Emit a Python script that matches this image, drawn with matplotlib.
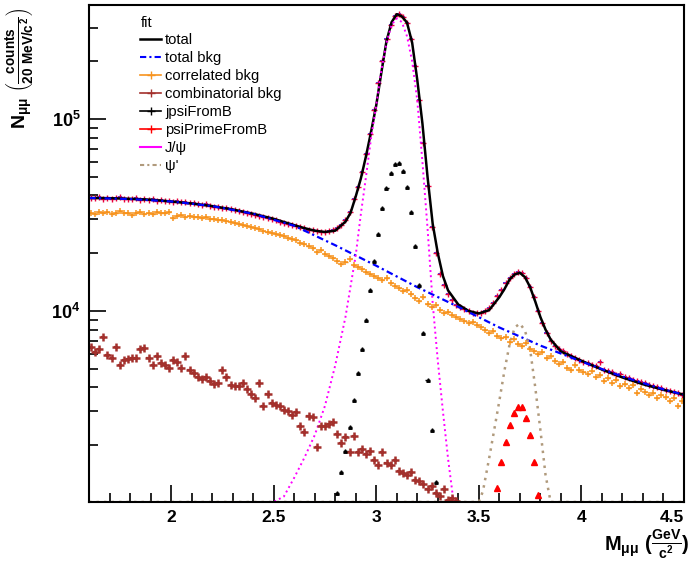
import numpy as np
import matplotlib.pyplot as plt
from matplotlib.lines import Line2D
from matplotlib.ticker import LogLocator, NullFormatter, FuncFormatter, MultipleLocator

plt.rcParams['font.family'] = ['Liberation Sans', 'DejaVu Sans']
plt.rcParams['mathtext.fontset'] = 'custom'
plt.rcParams['mathtext.rm'] = 'Liberation Sans:bold'
plt.rcParams['mathtext.it'] = 'Liberation Sans:bold'
plt.rcParams['mathtext.bf'] = 'Liberation Sans:bold'

# 20 MeV bins between 1.6 and 4.5 GeV
edges = np.arange(1.6, 4.5001, 0.02)
centers = (edges[:-1] + edges[1:]) / 2

# data (follows the total fit)
data = [38900, 38600, 39100, 38500, 38800, 38400, 38700, 39300, 38200, 38500,
        38300, 38600, 38000, 38400, 37900, 38100, 37600, 37900, 37300, 37500,
        37100, 37400, 36800, 36900, 36400, 36600, 36000, 35800, 35900, 35200,
        35000, 34700, 34300, 34500, 33800, 33600, 33100, 32900, 32500, 32000,
        31800, 31200, 30900, 30400, 30100, 29700, 29200, 28900, 28500, 28000,
        27700, 27300, 26900, 26500, 26300, 26000, 25900, 25800, 26000, 26400,
        27000, 28000, 29800, 32800, 38500, 44500, 53000, 66000, 84000, 112000,
        155000, 200000, 262000, 310000, 345000, 352000, 340000, 318000, 262000, 190000,
        125000, 75000, 45000, 27500, 20000, 15600, 13600, 12300, 11400, 10800,
        10500, 10200, 9950, 9750, 9700, 9800, 10000, 10400, 11000, 11900,
        12900, 13900, 14900, 15600, 15900, 15700, 14800, 13400, 11800, 10000,
        8700, 7700, 7000, 6600, 6300, 6150, 5950, 5850, 5700, 5550,
        5450, 5350, 5250, 5150, 5400, 4950, 4850, 4800, 4650, 4700,
        4550, 4450, 4380, 4330, 4250, 4200, 4100, 4060, 4000, 3950,
        3880, 3830, 3760, 3720, 3650]

correlated = [32500, 32100, 32800, 32300, 32600, 31900, 32400, 33000, 32200, 32500,
              31800, 32300, 32700, 32100, 32400, 31900, 32600, 32200, 32500, 32800,
              30400, 31200, 31600, 31000, 31400, 30700, 30900, 30500, 30800, 30100,
              30300, 29700, 29900, 29300, 29000, 28700, 28300, 28100, 27600, 27300,
              26900, 26700, 26200, 25900, 25500, 25200, 24800, 24500, 24000, 23700,
              23300, 22700, 22400, 21700, 21200, 20400, 20700, 19900, 19300, 18800,
              18300, 17600, 17900, 18600, 17400, 16900, 16600, 16000, 15600, 15300,
              14800, 14500, 14800, 13900, 13500, 13200, 12700, 12900, 12300, 11700,
              11300, 11800, 10900, 10500, 10700, 10100, 9700, 9900, 9500, 9300,
              9100, 8900, 8700, 8800, 8400, 8200, 8000, 7700, 7900, 7400,
              7200, 7300, 6900, 7100, 6700, 6600, 6800, 6300, 6200, 6000,
              6100, 5700, 5800, 5500, 5300, 5400, 5050, 4950, 5200, 4900,
              4800, 4700, 4850, 4550, 4650, 4300, 4450, 4200, 4350, 4050,
              4150, 3950, 4100, 3750, 3900, 3800, 3650, 3750, 3500, 3650,
              3550, 3400, 3500, 3200, 3400]

# combinatorial bkg, bins 1.61 .. 3.39
combinatorial = [6500, 6100, 6300, 7300, 5900, 5700, 6500, 5250, 5550, 5600,
                 5700, 5700, 6300, 6400, 5700, 5250, 5800, 5350, 5250, 5050,
                 5550, 5400, 5050, 5850, 4950, 4750, 4500, 4400, 4500, 4300,
                 4150, 4200, 4950, 4500, 4100, 4050, 4050, 4200, 3900, 3700,
                 3500, 4200, 3200, 3700, 3300, 3250, 3200, 3050, 3000, 2870,
                 2980, 2500, 2330, 2840, 2800, 1960, 2500, 2520, 2570, 2640,
                 2280, 2060, 2200, 1850, 2220, 1850, 1900, 1800, 1870, 1680,
                 1580, 1850, 1620, 1580, 1680, 1460, 1430, 1400, 1450, 1320,
                 1300, 1250, 1180, 1220, 1130, 1090, 1180, 1040, 1060, 1020]

jpsiB_x = [2.81, 2.83, 2.85, 2.87, 2.89, 2.91, 2.93, 2.95, 2.97, 2.99, 3.01, 3.03, 3.05,
           3.07, 3.09, 3.11, 3.13, 3.15, 3.17, 3.19, 3.21, 3.23, 3.25, 3.27, 3.29]
jpsiB = [1130, 1445, 1870, 2480, 3440, 4730, 6340, 8970, 12900, 18100, 25200, 34300, 43600,
         52500, 58300, 59200, 53800, 44500, 32900, 21800, 13600, 7710, 4370, 2390, 1280]

psipB_x = [3.59, 3.61, 3.63, 3.65, 3.67, 3.69, 3.71, 3.73, 3.75, 3.77, 3.79]
psipB = [1190, 1630, 2070, 2550, 2950, 3170, 3170, 2760, 2260, 1630, 1100]

total_x = [1.6, 1.7, 1.8, 1.9, 2.0, 2.1, 2.2, 2.3, 2.4, 2.5, 2.6, 2.65, 2.7, 2.75, 2.8,
           2.85, 2.875, 2.9, 2.925, 2.95, 2.975, 3.0, 3.025, 3.05, 3.075, 3.1, 3.125,
           3.15, 3.175, 3.2, 3.225, 3.25, 3.275, 3.3, 3.325, 3.35, 3.4, 3.45, 3.5,
           3.55, 3.6, 3.625, 3.65, 3.675, 3.7, 3.725, 3.75, 3.775, 3.8, 3.825, 3.85,
           3.9, 4.0, 4.1, 4.2, 4.3, 4.4, 4.5]
total = [38800, 38700, 38400, 38000, 37200, 36300, 35200, 33800, 32100, 30200, 28000,
         27000, 26200, 25800, 26200, 29200, 32500, 39500, 49000, 64000, 86000, 118000,
         175000, 255000, 320000, 352000, 343000, 318000, 250000, 160000, 95000, 50000,
         28500, 20000, 15200, 12800, 10800, 10000, 9700, 10100, 11800, 13000, 14600,
         15500, 15800, 15000, 13300, 11200, 9300, 8000, 7100, 6150, 5500, 4950, 4500,
         4150, 3880, 3660]

bkg_x = [1.6, 1.8, 2.0, 2.2, 2.4, 2.6, 2.8, 3.0, 3.2, 3.4, 3.6, 3.8, 4.0, 4.2, 4.4, 4.5]
bkg = [38800, 38300, 37200, 35200, 32100, 27800, 22000, 17200, 13300, 10500, 8200,
       6600, 5450, 4550, 3900, 3660]

jpsi_x = [1.6, 2.5, 2.55, 2.6, 2.65, 2.7, 2.75, 2.8, 2.85, 2.9, 2.925, 2.95, 2.975, 3.0,
          3.025, 3.05, 3.075, 3.1, 3.125, 3.15, 3.175, 3.2, 3.225, 3.25, 3.275, 3.3,
          3.325, 3.35, 3.375, 3.4, 4.5]
jpsi = [20, 850, 1080, 1350, 1720, 2250, 3200, 5200, 9300, 19500, 32000, 50000, 80000,
        118000, 180000, 250000, 310000, 335000, 320000, 270000, 200000, 125000, 60000,
        27000, 11000, 5500, 3000, 1700, 1050, 700, 1]

psip_x = [1.6, 3.45, 3.5, 3.52, 3.55, 3.575, 3.6, 3.625, 3.65, 3.675, 3.7, 3.725, 3.75,
          3.775, 3.8, 3.825, 3.85, 3.87, 3.92, 4.5]
psip = [1, 300, 800, 1150, 1700, 2400, 3400, 4900, 6700, 8200, 8600, 7900, 6300, 4000,
        2400, 1400, 850, 600, 300, 1]

ymin, ymax = 1010, 3.93e5
orange = '#f7931e'
brown = '#a3302c'
tan = '#b09a7c'
bkg_ls = (0, (3, 1.5, 1, 1.5))

fig = plt.figure(figsize=(6.95, 5.63), dpi=100)
ax = fig.add_axes([89 / 695, 1 - 502 / 563, 595 / 695, 497 / 563])

ax.errorbar(centers, correlated, xerr=0.01, fmt='+', color=orange, ms=5, mew=1.1, lw=1)
ax.errorbar(centers[:len(combinatorial)], combinatorial, xerr=0.01, fmt='+', color=brown,
            ms=6, mew=1.8, lw=1.6)
ax.errorbar(jpsiB_x, jpsiB, xerr=0.01, fmt='^', color='black', ms=2.5, lw=1)
ax.errorbar(psipB_x, psipB, xerr=0.008, fmt='^', color='red', ms=4, lw=1)
ax.errorbar(centers, data, xerr=0.01, fmt='none', ecolor='#2020ff', lw=1.2)
ax.plot(centers, data, '+', color='#e8003c', ms=4, mew=1)

ax.plot(total_x, total, color='black', lw=1.8)
ax.plot(bkg_x, bkg, color='#0000ff', ls=bkg_ls, lw=1.6)
ax.plot(jpsi_x, np.clip(jpsi, ymin, None), color='#ff00ff', ls=':', lw=1.4)
ax.plot(psip_x, np.clip(psip, ymin, None), color=tan, ls=(0, (1, 2)), lw=1.8)

ax.set_yscale('log')
ax.set_xlim(1.6, 4.5)
ax.set_ylim(ymin, ymax)

ax.yaxis.set_major_locator(LogLocator(base=10))
ax.yaxis.set_minor_locator(LogLocator(base=10, subs=np.arange(2, 10)))
ax.yaxis.set_major_formatter(FuncFormatter(lambda v, p: r'$10^{%d}$' % round(np.log10(v))))
ax.yaxis.set_minor_formatter(NullFormatter())
ax.set_xticks([2, 2.5, 3, 3.5, 4, 4.5], labels=['2', '2.5', '3', '3.5', '4', '4.5'],
              fontsize=12.5, fontweight='bold')
ax.xaxis.set_minor_locator(MultipleLocator(0.1))
ax.tick_params(which='both', direction='in', top=False, right=False, width=1.2)
ax.tick_params(which='major', length=12.5, pad=6)
ax.tick_params(which='minor', length=6.5)
ax.tick_params(axis='y', labelsize=13)
ax.get_xticklabels()[-1].set_horizontalalignment('right')
for s in ax.spines.values():
    s.set_linewidth(1.5)

fig.text(20 / 695, 1 - 8 / 563,
         r'$N_{\mu\mu}\ \left(\frac{counts}{20\ MeV/c^{2}}\right)$',
         rotation=90, ha='center', va='top', fontsize=14)
fig.text(690 / 695, 1 - 545 / 563, r'$M_{\mu\mu}\ (\frac{GeV}{c^{2}})$',
         ha='right', va='center', fontsize=14.5)

handles = [
    Line2D([], [], color='black', lw=1.8),
    Line2D([], [], color='#0000ff', ls=bkg_ls, lw=1.5),
    Line2D([], [], color=orange, lw=1.2, marker='+', ms=6),
    Line2D([], [], color=brown, lw=1.2, marker='+', ms=6),
    Line2D([], [], color='black', lw=1.2, marker='+', ms=6),
    Line2D([], [], color='red', lw=1.2, marker='+', ms=6),
    Line2D([], [], color='#ff00ff', lw=1.5),
    Line2D([], [], color=tan, ls=(0, (2, 1.5, 1, 1.5)), lw=1.5),
]
labels = ['total', 'total bkg', 'correlated bkg', 'combinatorial bkg', 'jpsiFromB',
          'psiPrimeFromB', 'J/ψ', "ψ'"]
fig.text(141 / 695, 1 - 23 / 563, 'fit', ha='left', va='center', fontsize=10.6)
ax.legend(handles, labels, loc='upper left',
          bbox_to_anchor=(140 / 695, 1 - 33 / 563), bbox_transform=fig.transFigure,
          frameon=False, fontsize=10.6, handlelength=1.45,
          handletextpad=0.25, labelspacing=0.27, borderpad=0, borderaxespad=0,
          numpoints=1)

fig.savefig('out.png', dpi=100)
